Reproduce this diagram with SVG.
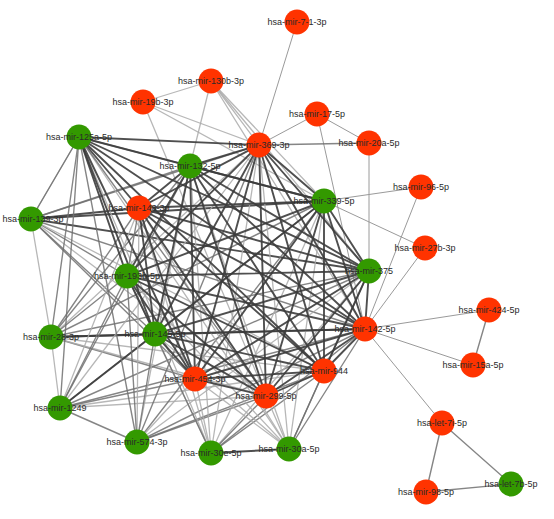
<svg xmlns="http://www.w3.org/2000/svg" width="554" height="519" viewBox="0 0 554 519">
<style>
.bg{fill:#ffffff}
#edges line{fill:none;stroke-linecap:round}
.d{stroke:#3c3c3c;stroke-width:1.9;stroke-opacity:0.9}
.m{stroke:#707070;stroke-width:1.4;stroke-opacity:0.85}
.l{stroke:#aaaaaa;stroke-width:1.3;stroke-opacity:0.85}
.t{stroke:#9a9a9a;stroke-width:1}
.r{fill:#ff3300}
.g{fill:#339900}
text{font-family:"Liberation Sans",Arial,sans-serif;font-size:9px;fill:#2a2a2a;text-anchor:middle}
</style>
<rect class="bg" x="0" y="0" width="554" height="519"/>
<g id="edges">
<!-- peripheral -->
<line class="t" x1="297" y1="22" x2="259" y2="145"/>
<line class="t" x1="317" y1="114" x2="259" y2="145"/>
<line class="t" x1="317" y1="114" x2="369" y2="143"/>
<line class="t" x1="317" y1="114" x2="365" y2="329"/>
<line class="m" x1="369" y1="143" x2="259" y2="145"/>
<line class="t" x1="369" y1="143" x2="369" y2="271"/>
<line class="t" x1="421" y1="187" x2="324" y2="201"/>
<line class="t" x1="421" y1="187" x2="365" y2="329"/>
<line class="t" x1="425" y1="248" x2="324" y2="201"/>
<line class="t" x1="425" y1="248" x2="365" y2="329"/>
<line class="t" x1="489" y1="310" x2="365" y2="329"/>
<line class="m" x1="489" y1="310" x2="473" y2="365"/>
<line class="t" x1="473" y1="365" x2="365" y2="329"/>
<line class="t" x1="442" y1="423" x2="365" y2="329"/>
<line class="m" x1="442" y1="423" x2="426" y2="492"/>
<line class="m" x1="442" y1="423" x2="511" y2="484"/>
<line class="m" x1="426" y1="492" x2="511" y2="484"/>
<line class="l" x1="211" y1="81" x2="143" y2="102"/>
<line class="l" x1="211" y1="81" x2="259" y2="145"/>
<line class="l" x1="211" y1="81" x2="190" y2="166"/>
<line class="l" x1="211" y1="81" x2="324" y2="201"/>
<line class="l" x1="211" y1="81" x2="369" y2="271"/>
<line class="l" x1="211" y1="81" x2="365" y2="329"/>
<line class="l" x1="143" y1="102" x2="259" y2="145"/>
<line class="l" x1="143" y1="102" x2="324" y2="201"/>
<line class="l" x1="143" y1="102" x2="266" y2="396"/>
<line class="l" x1="79" y1="137" x2="31" y2="219"/>
<line class="l" x1="31" y1="219" x2="51" y2="337"/>
<line class="l" x1="51" y1="337" x2="60" y2="408"/>
<line class="m" x1="60" y1="408" x2="137" y2="442"/>
<line class="d" x1="211" y1="453" x2="289" y2="449"/>
<!-- ring to core: 139 -->
<line class="m" x1="31" y1="219" x2="79" y2="137"/>
<line class="m" x1="31" y1="219" x2="190" y2="166"/>
<line class="m" x1="31" y1="219" x2="259" y2="145"/>
<line class="d" x1="31" y1="219" x2="324" y2="201"/>
<line class="d" x1="31" y1="219" x2="139" y2="208"/>
<line class="m" x1="31" y1="219" x2="127" y2="276"/>
<line class="m" x1="31" y1="219" x2="155" y2="334"/>
<line class="d" x1="31" y1="219" x2="369" y2="271"/>
<line class="m" x1="31" y1="219" x2="365" y2="329"/>
<line class="l" x1="31" y1="219" x2="324" y2="371"/>
<line class="m" x1="31" y1="219" x2="195" y2="379"/>
<line class="l" x1="31" y1="219" x2="266" y2="396"/>
<!-- 28 -->
<line class="m" x1="51" y1="337" x2="79" y2="137"/>
<line class="m" x1="51" y1="337" x2="190" y2="166"/>
<line class="l" x1="51" y1="337" x2="259" y2="145"/>
<line class="m" x1="51" y1="337" x2="324" y2="201"/>
<line class="m" x1="51" y1="337" x2="139" y2="208"/>
<line class="m" x1="51" y1="337" x2="127" y2="276"/>
<line class="d" x1="51" y1="337" x2="155" y2="334"/>
<line class="m" x1="51" y1="337" x2="369" y2="271"/>
<line class="d" x1="51" y1="337" x2="365" y2="329"/>
<line class="l" x1="51" y1="337" x2="324" y2="371"/>
<line class="m" x1="51" y1="337" x2="195" y2="379"/>
<line class="l" x1="51" y1="337" x2="266" y2="396"/>
<!-- 1249 -->
<line class="m" x1="60" y1="408" x2="79" y2="137"/>
<line class="m" x1="60" y1="408" x2="190" y2="166"/>
<line class="l" x1="60" y1="408" x2="259" y2="145"/>
<line class="m" x1="60" y1="408" x2="324" y2="201"/>
<line class="l" x1="60" y1="408" x2="139" y2="208"/>
<line class="m" x1="60" y1="408" x2="127" y2="276"/>
<line class="d" x1="60" y1="408" x2="155" y2="334"/>
<line class="m" x1="60" y1="408" x2="369" y2="271"/>
<line class="m" x1="60" y1="408" x2="365" y2="329"/>
<line class="l" x1="60" y1="408" x2="324" y2="371"/>
<line class="m" x1="60" y1="408" x2="195" y2="379"/>
<line class="l" x1="60" y1="408" x2="266" y2="396"/>
<!-- 574 -->
<line class="m" x1="137" y1="442" x2="79" y2="137"/>
<line class="l" x1="137" y1="442" x2="190" y2="166"/>
<line class="m" x1="137" y1="442" x2="259" y2="145"/>
<line class="m" x1="137" y1="442" x2="324" y2="201"/>
<line class="l" x1="137" y1="442" x2="139" y2="208"/>
<line class="m" x1="137" y1="442" x2="127" y2="276"/>
<line class="m" x1="137" y1="442" x2="155" y2="334"/>
<line class="l" x1="137" y1="442" x2="369" y2="271"/>
<line class="m" x1="137" y1="442" x2="365" y2="329"/>
<line class="m" x1="137" y1="442" x2="324" y2="371"/>
<line class="l" x1="137" y1="442" x2="195" y2="379"/>
<line class="m" x1="137" y1="442" x2="266" y2="396"/>
<!-- 30e -->
<line class="l" x1="211" y1="453" x2="79" y2="137"/>
<line class="l" x1="211" y1="453" x2="190" y2="166"/>
<line class="l" x1="211" y1="453" x2="259" y2="145"/>
<line class="l" x1="211" y1="453" x2="324" y2="201"/>
<line class="l" x1="211" y1="453" x2="139" y2="208"/>
<line class="l" x1="211" y1="453" x2="127" y2="276"/>
<line class="m" x1="211" y1="453" x2="155" y2="334"/>
<line class="l" x1="211" y1="453" x2="369" y2="271"/>
<line class="m" x1="211" y1="453" x2="365" y2="329"/>
<line class="m" x1="211" y1="453" x2="324" y2="371"/>
<line class="l" x1="211" y1="453" x2="195" y2="379"/>
<line class="m" x1="211" y1="453" x2="266" y2="396"/>
<!-- 30a -->
<line class="l" x1="289" y1="449" x2="79" y2="137"/>
<line class="l" x1="289" y1="449" x2="190" y2="166"/>
<line class="l" x1="289" y1="449" x2="259" y2="145"/>
<line class="l" x1="289" y1="449" x2="324" y2="201"/>
<line class="l" x1="289" y1="449" x2="139" y2="208"/>
<line class="l" x1="289" y1="449" x2="127" y2="276"/>
<line class="l" x1="289" y1="449" x2="155" y2="334"/>
<line class="m" x1="289" y1="449" x2="369" y2="271"/>
<line class="m" x1="289" y1="449" x2="365" y2="329"/>
<line class="m" x1="289" y1="449" x2="324" y2="371"/>
<line class="l" x1="289" y1="449" x2="195" y2="379"/>
<line class="l" x1="289" y1="449" x2="266" y2="396"/>
<!-- core -->
<line class="m" x1="79" y1="137" x2="190" y2="166"/>
<line class="d" x1="79" y1="137" x2="259" y2="145"/>
<line class="d" x1="79" y1="137" x2="324" y2="201"/>
<line class="d" x1="79" y1="137" x2="139" y2="208"/>
<line class="d" x1="79" y1="137" x2="127" y2="276"/>
<line class="d" x1="79" y1="137" x2="155" y2="334"/>
<line class="d" x1="79" y1="137" x2="369" y2="271"/>
<line class="d" x1="79" y1="137" x2="365" y2="329"/>
<line class="d" x1="79" y1="137" x2="324" y2="371"/>
<line class="d" x1="79" y1="137" x2="195" y2="379"/>
<line class="m" x1="79" y1="137" x2="266" y2="396"/>
<line class="d" x1="190" y1="166" x2="259" y2="145"/>
<line class="d" x1="190" y1="166" x2="324" y2="201"/>
<line class="d" x1="190" y1="166" x2="139" y2="208"/>
<line class="d" x1="190" y1="166" x2="127" y2="276"/>
<line class="d" x1="190" y1="166" x2="155" y2="334"/>
<line class="d" x1="190" y1="166" x2="369" y2="271"/>
<line class="d" x1="190" y1="166" x2="365" y2="329"/>
<line class="d" x1="190" y1="166" x2="324" y2="371"/>
<line class="d" x1="190" y1="166" x2="195" y2="379"/>
<line class="d" x1="190" y1="166" x2="266" y2="396"/>
<line class="d" x1="259" y1="145" x2="324" y2="201"/>
<line class="d" x1="259" y1="145" x2="139" y2="208"/>
<line class="d" x1="259" y1="145" x2="127" y2="276"/>
<line class="d" x1="259" y1="145" x2="155" y2="334"/>
<line class="d" x1="259" y1="145" x2="369" y2="271"/>
<line class="d" x1="259" y1="145" x2="365" y2="329"/>
<line class="d" x1="259" y1="145" x2="324" y2="371"/>
<line class="d" x1="259" y1="145" x2="195" y2="379"/>
<line class="d" x1="259" y1="145" x2="266" y2="396"/>
<line class="d" x1="324" y1="201" x2="139" y2="208"/>
<line class="d" x1="324" y1="201" x2="127" y2="276"/>
<line class="d" x1="324" y1="201" x2="155" y2="334"/>
<line class="d" x1="324" y1="201" x2="369" y2="271"/>
<line class="d" x1="324" y1="201" x2="365" y2="329"/>
<line class="d" x1="324" y1="201" x2="324" y2="371"/>
<line class="d" x1="324" y1="201" x2="195" y2="379"/>
<line class="d" x1="324" y1="201" x2="266" y2="396"/>
<line class="m" x1="139" y1="208" x2="127" y2="276"/>
<line class="d" x1="139" y1="208" x2="155" y2="334"/>
<line class="d" x1="139" y1="208" x2="369" y2="271"/>
<line class="d" x1="139" y1="208" x2="365" y2="329"/>
<line class="d" x1="139" y1="208" x2="324" y2="371"/>
<line class="d" x1="139" y1="208" x2="195" y2="379"/>
<line class="d" x1="139" y1="208" x2="266" y2="396"/>
<line class="d" x1="127" y1="276" x2="155" y2="334"/>
<line class="d" x1="127" y1="276" x2="369" y2="271"/>
<line class="d" x1="127" y1="276" x2="365" y2="329"/>
<line class="d" x1="127" y1="276" x2="324" y2="371"/>
<line class="d" x1="127" y1="276" x2="195" y2="379"/>
<line class="d" x1="127" y1="276" x2="266" y2="396"/>
<line class="d" x1="155" y1="334" x2="369" y2="271"/>
<line class="d" x1="155" y1="334" x2="365" y2="329"/>
<line class="d" x1="155" y1="334" x2="324" y2="371"/>
<line class="d" x1="155" y1="334" x2="195" y2="379"/>
<line class="d" x1="155" y1="334" x2="266" y2="396"/>
<line class="d" x1="369" y1="271" x2="365" y2="329"/>
<line class="d" x1="369" y1="271" x2="324" y2="371"/>
<line class="d" x1="369" y1="271" x2="195" y2="379"/>
<line class="d" x1="369" y1="271" x2="266" y2="396"/>
<line class="d" x1="365" y1="329" x2="324" y2="371"/>
<line class="d" x1="365" y1="329" x2="195" y2="379"/>
<line class="d" x1="365" y1="329" x2="266" y2="396"/>
<line class="d" x1="324" y1="371" x2="195" y2="379"/>
<line class="d" x1="324" y1="371" x2="266" y2="396"/>
<line class="d" x1="195" y1="379" x2="266" y2="396"/>
</g>
<g id="n-mir-7-1-3p"><circle class="r" cx="297" cy="22" r="12.5"/><text x="297" y="25">hsa-mir-7-1-3p</text></g>
<g id="n-mir-17-5p"><circle class="r" cx="317" cy="114" r="12.5"/><text x="317" y="117">hsa-mir-17-5p</text></g>
<g id="n-mir-20a-5p"><circle class="r" cx="369" cy="143" r="12.5"/><text x="369" y="146">hsa-mir-20a-5p</text></g>
<g id="n-mir-130b-3p"><circle class="r" cx="211" cy="81" r="12.5"/><text x="211" y="84">hsa-mir-130b-3p</text></g>
<g id="n-mir-19b-3p"><circle class="r" cx="143" cy="102" r="12.5"/><text x="143" y="105">hsa-mir-19b-3p</text></g>
<g id="n-mir-125a-5p"><circle class="g" cx="79" cy="137" r="12.5"/><text x="79" y="140">hsa-mir-125a-5p</text></g>
<g id="n-mir-369-3p"><circle class="r" cx="259" cy="145" r="12.5"/><text x="259" y="148">hsa-mir-369-3p</text></g>
<g id="n-mir-132-5p"><circle class="g" cx="190" cy="166" r="12.5"/><text x="190" y="169">hsa-mir-132-5p</text></g>
<g id="n-mir-139-3p"><circle class="g" cx="31" cy="219" r="12.5"/><text x="33" y="222">hsa-mir-139-3p</text></g>
<g id="n-mir-143-3p"><circle class="r" cx="139" cy="208" r="12.5"/><text x="139" y="211">hsa-mir-143-3p</text></g>
<g id="n-mir-339-5p"><circle class="g" cx="324" cy="201" r="12.5"/><text x="324" y="204">hsa-mir-339-5p</text></g>
<g id="n-mir-96-5p"><circle class="r" cx="421" cy="187" r="12.5"/><text x="421" y="190">hsa-mir-96-5p</text></g>
<g id="n-mir-27b-3p"><circle class="r" cx="425" cy="248" r="12.5"/><text x="425" y="251">hsa-mir-27b-3p</text></g>
<g id="n-mir-375"><circle class="g" cx="369" cy="271" r="12.5"/><text x="369" y="274">hsa-mir-375</text></g>
<g id="n-mir-193b-5p"><circle class="g" cx="127" cy="276" r="12.5"/><text x="127" y="279">hsa-mir-193b-5p</text></g>
<g id="n-mir-28-3p"><circle class="g" cx="51" cy="337" r="12.5"/><text x="51" y="340">hsa-mir-28-3p</text></g>
<g id="n-mir-145-5p"><circle class="g" cx="155" cy="334" r="12.5"/><text x="155" y="337">hsa-mir-145-5p</text></g>
<g id="n-mir-142-5p"><circle class="r" cx="365" cy="329" r="12.5"/><text x="365" y="332">hsa-mir-142-5p</text></g>
<g id="n-mir-424-5p"><circle class="r" cx="489" cy="310" r="12.5"/><text x="489" y="313">hsa-mir-424-5p</text></g>
<g id="n-mir-15a-5p"><circle class="r" cx="473" cy="365" r="12.5"/><text x="473" y="368">hsa-mir-15a-5p</text></g>
<g id="n-mir-944"><circle class="r" cx="324" cy="371" r="12.5"/><text x="324" y="374">hsa-mir-944</text></g>
<g id="n-mir-454-3p"><circle class="r" cx="195" cy="379" r="12.5"/><text x="195" y="382">hsa-mir-454-3p</text></g>
<g id="n-mir-299-5p"><circle class="r" cx="266" cy="396" r="12.5"/><text x="266" y="399">hsa-mir-299-5p</text></g>
<g id="n-mir-1249"><circle class="g" cx="60" cy="408" r="12.5"/><text x="60" y="411">hsa-mir-1249</text></g>
<g id="n-mir-574-3p"><circle class="g" cx="137" cy="442" r="12.5"/><text x="137" y="445">hsa-mir-574-3p</text></g>
<g id="n-mir-30e-5p"><circle class="g" cx="211" cy="453" r="12.5"/><text x="211" y="456">hsa-mir-30e-5p</text></g>
<g id="n-mir-30a-5p"><circle class="g" cx="289" cy="449" r="12.5"/><text x="289" y="452">hsa-mir-30a-5p</text></g>
<g id="n-let-7i-5p"><circle class="r" cx="442" cy="423" r="12.5"/><text x="442" y="426">hsa-let-7i-5p</text></g>
<g id="n-mir-98-5p"><circle class="r" cx="426" cy="492" r="12.5"/><text x="426" y="495">hsa-mir-98-5p</text></g>
<g id="n-let-7b-5p"><circle class="g" cx="511" cy="484" r="12.5"/><text x="511" y="487">hsa-let-7b-5p</text></g>
</svg>
